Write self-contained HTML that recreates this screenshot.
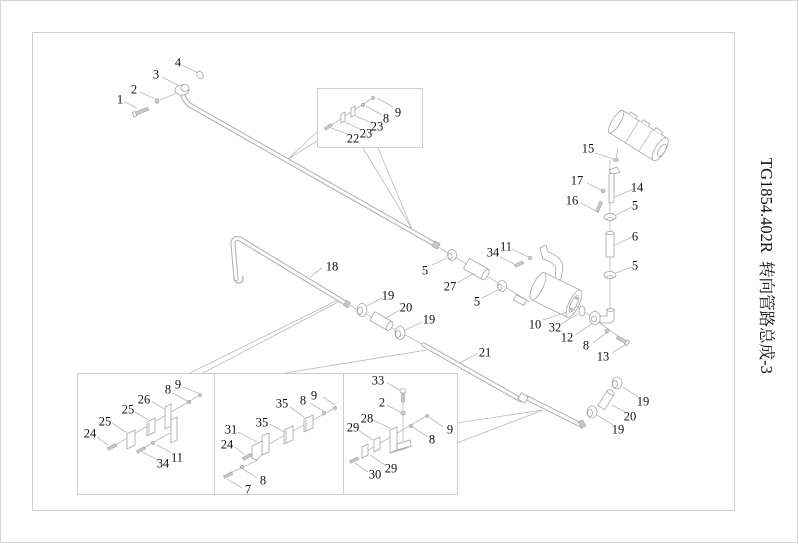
<!DOCTYPE html>
<html><head><meta charset="utf-8">
<style>
html,body{margin:0;padding:0;background:#fff;}
svg{display:block;}
text{font-family:"Liberation Serif","Noto Serif CJK SC",serif;fill:#111;}
.n{font-size:12.5px;text-anchor:middle;}
.l{stroke:#b8b8b8;stroke-width:0.8;fill:none;}
.p{fill:#fff;stroke:#a4a4a4;stroke-width:0.8;}
.d{fill:#c8c8c8;stroke:#a0a0a0;stroke-width:0.6;}
.po{fill:none;stroke:#adadad;stroke-width:5;stroke-linecap:round;stroke-linejoin:round;}
.pi{fill:none;stroke:#fff;stroke-width:3;stroke-linecap:round;stroke-linejoin:round;}
</style></head><body>
<svg width="799" height="544" viewBox="0 0 799 544" xmlns="http://www.w3.org/2000/svg">
<rect x="0" y="0" width="799" height="544" fill="#fff"/>
<rect x="0.5" y="0.5" width="797" height="542" fill="none" stroke="#d6d6d6"/>
<rect x="32.5" y="32.5" width="702" height="478" fill="none" stroke="#cdcdcd"/>
<g fill="none" stroke="#cdcdcd">
<rect x="317.5" y="88.5" width="105" height="59"/>
<rect x="77.5" y="373.5" width="380" height="121"/>
<line x1="214.5" y1="373" x2="214.5" y2="494"/>
<line x1="343.5" y1="373" x2="343.5" y2="494"/>
</g>

<text transform="translate(761,158) rotate(90)" font-size="16.5">TG1854.402R&#160;&#160;转向管路总成-3</text>

<!-- PIPE A -->
<path class="po" d="M182,93 Q185,103 193,107 L436,245"/>
<path class="pi" d="M182,93 Q185,103 193,107 L436,245"/>
<g transform="translate(436,245) rotate(30)"><rect class="d" x="-3" y="-3" width="6" height="6"/></g>
<ellipse class="p" cx="182" cy="90" rx="7" ry="5"/>
<ellipse class="p" cx="185" cy="88" rx="4" ry="3.5"/>
<ellipse class="p" cx="200" cy="75" rx="3" ry="4" transform="rotate(-30 200 75)"/>
<line class="l" x1="160" y1="100" x2="177" y2="93"/>
<ellipse class="d" cx="157" cy="101" rx="2" ry="2.5"/>
<g transform="translate(135,114) rotate(-22)"><rect class="d" x="0" y="-1.6" width="14" height="3.2"/><rect class="p" x="-2" y="-2.4" width="3" height="4.8"/></g>
<line class="l" x1="182" y1="65" x2="198" y2="73"/>
<line class="l" x1="162" y1="77" x2="178" y2="85"/>
<line class="l" x1="140" y1="92" x2="155" y2="99"/>
<line class="l" x1="125" y1="102" x2="137" y2="108"/>
<line class="l" x1="317" y1="132" x2="288" y2="159"/>
<line class="l" x1="317" y1="141" x2="288" y2="159"/>
<line class="l" x1="363" y1="148" x2="412" y2="229"/>
<line class="l" x1="378" y1="148" x2="412" y2="229"/>

<!-- top inset parts -->
<line class="l" x1="330" y1="126" x2="374" y2="97"/>
<g transform="translate(325,129) rotate(-33)"><rect class="d" x="0" y="-1.3" width="8" height="2.6"/></g>
<path class="p" d="M341,114 l4,-2 l0,9 l-4,2 z"/>
<path class="p" d="M351,108 l4,-2 l0,9 l-4,2 z"/>
<circle class="d" cx="363" cy="105" r="1.8"/>
<circle class="d" cx="373" cy="98" r="1.6"/>
<line class="l" x1="377" y1="98" x2="393" y2="107"/>
<line class="l" x1="366" y1="106" x2="382" y2="115"/>
<line class="l" x1="355" y1="116" x2="372" y2="123"/>
<line class="l" x1="345" y1="122" x2="362" y2="130"/>
<line class="l" x1="331" y1="128" x2="350" y2="135"/>

<!-- PIPE 18 -->
<path class="po" d="M236,279 L233,244 Q233,237 240,239 L347,304"/>
<path class="pi" d="M236,279 L233,244 Q233,237 240,239 L347,304"/>
<path d="M234,276 Q234,284 240,283 Q245,281 242,276" fill="none" stroke="#adadad" stroke-width="1.2"/>
<g transform="translate(347,304) rotate(31)"><rect class="d" x="-2.5" y="-2.8" width="5" height="5.6"/></g>
<line class="l" x1="322" y1="268" x2="310" y2="277"/>
<line class="l" x1="190" y1="373" x2="338" y2="300"/>
<line class="l" x1="203" y1="373" x2="340" y2="301"/>

<!-- 19 20 19 -->
<line class="l" x1="349" y1="305" x2="424" y2="345"/>
<ellipse class="p" cx="362" cy="310" rx="5" ry="6.5"/><ellipse class="p" cx="360" cy="311" rx="2.5" ry="3.5"/>
<g transform="translate(381,321) rotate(30)"><rect class="p" x="-10" y="-5" width="20" height="10"/><ellipse class="p" cx="10" cy="0" rx="2.5" ry="5"/></g>
<ellipse class="p" cx="400" cy="333" rx="5" ry="6.5"/><ellipse class="p" cx="398" cy="334" rx="2.5" ry="3.5"/>
<line class="l" x1="382" y1="298" x2="367" y2="306"/>
<line class="l" x1="400" y1="310" x2="386" y2="318"/>
<line class="l" x1="422" y1="322" x2="405" y2="330"/>

<!-- PIPE 21 -->
<path class="po" d="M424,345 L521,400"/>
<path class="pi" d="M424,345 L521,400"/>
<path class="po" d="M525,397 L581,425"/>
<path class="pi" d="M525,397 L581,425"/>
<g transform="translate(523,398) rotate(30)"><rect class="p" x="-4" y="-3.5" width="8" height="7"/></g>
<g transform="translate(582,424) rotate(-30)"><rect class="d" x="-2.5" y="-3.5" width="5" height="7"/></g>
<line class="l" x1="478" y1="353" x2="460" y2="363"/>
<line class="l" x1="285" y1="373" x2="427" y2="350"/>
<line class="l" x1="457" y1="423" x2="543" y2="410"/>
<line class="l" x1="457" y1="443" x2="543" y2="410"/>

<!-- right 19 20 19 -->
<ellipse class="p" cx="617" cy="383" rx="5" ry="6"/><ellipse class="p" cx="615" cy="384" rx="2.5" ry="3.5"/>
<g transform="translate(606,400) rotate(-58)"><rect class="p" x="-9" y="-4" width="18" height="8"/><ellipse class="p" cx="9" cy="0" rx="2" ry="4"/></g>
<ellipse class="p" cx="592" cy="412" rx="5" ry="6"/><ellipse class="p" cx="590" cy="413" rx="2.5" ry="3.5"/>
<line class="l" x1="623" y1="387" x2="638" y2="397"/>
<line class="l" x1="612" y1="405" x2="625" y2="412"/>
<line class="l" x1="597" y1="415" x2="613" y2="425"/>

<!-- chain to cylinder -->
<line class="l" x1="438" y1="247" x2="530" y2="302"/>
<ellipse class="p" cx="452" cy="255" rx="4.5" ry="5.5"/><ellipse class="p" cx="450" cy="256" rx="2" ry="3"/>
<g transform="translate(476,269) rotate(30)"><rect class="p" x="-11" y="-6" width="22" height="12"/><ellipse class="p" cx="11" cy="0" rx="2.5" ry="6"/></g>
<ellipse class="p" cx="502" cy="286" rx="4.5" ry="5.5"/><ellipse class="p" cx="500" cy="287" rx="2" ry="3"/>
<line class="l" x1="432" y1="265" x2="447" y2="258"/>
<line class="l" x1="457" y1="283" x2="475" y2="273"/>
<line class="l" x1="482" y1="298" x2="498" y2="290"/>

<path class="p" d="M540,248 L546,245 L548,252 Q561,256 563,266 L561,279 L555,281 L556,268 Q553,262 543,259 Z"/>
<g transform="translate(515,266) rotate(-25)"><rect class="d" x="0" y="-1.4" width="9" height="2.8"/></g>
<circle class="d" cx="530" cy="258" r="1.8"/>
<line class="l" x1="500" y1="257" x2="514" y2="264"/>
<line class="l" x1="512" y1="249" x2="528" y2="257"/>
<g transform="translate(520,300) rotate(28)"><rect class="p" x="-6" y="-3" width="12" height="6"/></g>
<g transform="translate(556,295) rotate(26)">
<rect class="p" x="-20" y="-15" width="40" height="30"/>
<ellipse class="p" cx="-20" cy="0" rx="5" ry="15"/>
<ellipse class="p" cx="20" cy="0" rx="5" ry="15"/>
<ellipse class="p" cx="20" cy="0" rx="3" ry="9"/>
<circle class="d" cx="20" cy="-6" r="1"/><circle class="d" cx="20" cy="6" r="1"/>
</g>
<line class="l" x1="543" y1="320" x2="567" y2="312"/>
<line class="l" x1="561" y1="324" x2="578" y2="314"/>
<line class="l" x1="575" y1="335" x2="593" y2="323"/>
<line class="l" x1="593" y1="343" x2="606" y2="333"/>
<line class="l" x1="612" y1="353" x2="627" y2="344"/>
<line class="l" x1="576" y1="306" x2="628" y2="343"/>
<ellipse class="p" cx="582" cy="311" rx="3" ry="5"/>
<ellipse class="p" cx="595" cy="318" rx="5.5" ry="6.5"/><ellipse class="p" cx="594" cy="319" rx="2.5" ry="3"/>
<path class="p" d="M600,316 L607,316 L607,309 L614,309 L614,318 Q614,323 608,323 L600,323 Z"/>
<ellipse class="p" cx="610.5" cy="310" rx="3.5" ry="1.5"/>
<circle class="d" cx="607" cy="331" r="2"/>
<g transform="translate(617,337) rotate(30)"><rect class="d" x="0" y="-1.6" width="12" height="3.2"/><rect class="p" x="10" y="-2.4" width="3" height="4.8"/></g>

<!-- vertical chain -->
<line class="l" x1="610" y1="160" x2="610" y2="310"/>
<line class="l" x1="618" y1="148" x2="616" y2="160"/>
<ellipse class="d" cx="616" cy="160" rx="2.5" ry="1.5"/>
<path class="p" d="M609,170 L617,167 L620,172 L612,175 Z"/>
<path class="p" d="M609,174 L614,173 L614,202 L609,203 Z"/>
<circle class="d" cx="603" cy="191" r="2"/>
<g transform="translate(597,212) rotate(-68)"><rect class="d" x="0" y="-1.4" width="11" height="2.8"/></g>
<ellipse class="p" cx="610" cy="217" rx="6" ry="3.5"/><ellipse class="p" cx="610" cy="219" rx="3" ry="1.5"/>
<rect class="p" x="606" y="233" width="8" height="24"/>
<ellipse class="p" cx="610" cy="233" rx="4" ry="1.6"/>
<ellipse class="p" cx="610" cy="275" rx="6" ry="3.5"/><ellipse class="p" cx="610" cy="277" rx="3" ry="1.5"/>
<line class="l" x1="595" y1="153" x2="614" y2="159"/>
<line class="l" x1="587" y1="183" x2="601" y2="190"/>
<line class="l" x1="581" y1="203" x2="596" y2="211"/>
<line class="l" x1="633" y1="189" x2="615" y2="197"/>
<line class="l" x1="632" y1="207" x2="616" y2="215"/>
<line class="l" x1="632" y1="237" x2="615" y2="245"/>
<line class="l" x1="632" y1="267" x2="616" y2="273"/>
<g transform="translate(639,136) rotate(32)">
<rect class="p" x="-27" y="-13" width="52" height="26"/>
<path class="p" d="M-20,-13 l0,-3 l8,0 l0,3 M-5,-13 l0,-3 l8,0 l0,3 M10,-13 l0,-3 l8,0 l0,3"/>
<line class="l" x1="-8" y1="-13" x2="-8" y2="13"/>
<line class="l" x1="8" y1="-13" x2="8" y2="13"/>
<ellipse class="p" cx="25" cy="0" rx="5" ry="13"/>
<ellipse class="p" cx="27" cy="0" rx="3" ry="7"/>
<ellipse class="p" cx="-27" cy="0" rx="4" ry="13"/>
</g>

<!-- LEFT BOX -->
<line class="l" x1="112" y1="447" x2="200" y2="395"/>
<line class="l" x1="140" y1="450" x2="170" y2="433"/>
<circle class="d" cx="200" cy="395" r="1.6"/>
<circle class="d" cx="189" cy="402" r="1.8"/>
<path class="p" d="M165,407 L171,404 L171,426 L165,429 Z"/>
<path class="p" d="M171,420 L177,417 L177,440 L171,443 Z"/>
<path class="p" d="M147,422 L155,418 L155,432 L147,436 Z"/>
<path class="p" d="M149,423 L149,434"/>
<path class="p" d="M127,434 L135,430 L135,445 L127,449 Z"/>
<g transform="translate(108,449) rotate(-28)"><rect class="d" x="0" y="-1.4" width="9" height="2.8"/></g>
<g transform="translate(137,452) rotate(-28)"><rect class="d" x="0" y="-1.4" width="9" height="2.8"/></g>
<circle class="d" cx="153" cy="443" r="1.8"/>
<line class="l" x1="183" y1="387" x2="198" y2="393"/>
<line class="l" x1="173" y1="393" x2="187" y2="401"/>
<line class="l" x1="152" y1="402" x2="166" y2="410"/>
<line class="l" x1="135" y1="412" x2="148" y2="420"/>
<line class="l" x1="112" y1="423" x2="127" y2="433"/>
<line class="l" x1="97" y1="437" x2="108" y2="445"/>
<line class="l" x1="158" y1="460" x2="142" y2="452"/>
<line class="l" x1="172" y1="453" x2="157" y2="445"/>

<!-- MIDDLE BOX -->
<line class="l" x1="247" y1="456" x2="335" y2="408"/>
<line class="l" x1="226" y1="475" x2="258" y2="460"/>
<circle class="d" cx="335" cy="408" r="1.6"/>
<circle class="d" cx="324" cy="413" r="1.8"/>
<path class="p" d="M304,419 L313,415 L313,428 L304,432 Z"/>
<path class="p" d="M306,420 L306,431"/>
<path class="p" d="M284,430 L293,426 L293,440 L284,444 Z"/>
<path class="p" d="M286,431 L286,443"/>
<path class="p" d="M262,436 L269,433 L269,452 L262,455 Z"/>
<path class="p" d="M252,446 L262,441 L262,455 L256,460 L252,458 Z"/>
<g transform="translate(243,459) rotate(-28)"><rect class="d" x="0" y="-1.4" width="9" height="2.8"/></g>
<circle class="d" cx="242" cy="467" r="1.8"/>
<g transform="translate(224,477) rotate(-25)"><rect class="d" x="0" y="-1.4" width="9" height="2.8"/></g>
<line class="l" x1="323" y1="397" x2="335" y2="405"/>
<line class="l" x1="310" y1="403" x2="323" y2="411"/>
<line class="l" x1="290" y1="407" x2="304" y2="417"/>
<line class="l" x1="270" y1="424" x2="284" y2="432"/>
<line class="l" x1="238" y1="432" x2="257" y2="442"/>
<line class="l" x1="235" y1="447" x2="245" y2="455"/>
<line class="l" x1="257" y1="478" x2="243" y2="469"/>
<line class="l" x1="242" y1="488" x2="227" y2="479"/>

<!-- RIGHT BOX -->
<line class="l" x1="403" y1="400" x2="403" y2="445"/>
<line class="l" x1="365" y1="452" x2="428" y2="415"/>
<ellipse class="p" cx="403" cy="391" rx="3" ry="2.5"/>
<rect class="d" x="401.5" y="393" width="3" height="9"/>
<ellipse class="d" cx="403" cy="413" rx="2.5" ry="2"/>
<path class="p" d="M390,430 L397,427 L397,450 L390,453 Z"/>
<path class="p" d="M390,453 L397,450 L411,446 L404,449 Z"/>
<path class="p" d="M397,444 L410,440 L411,446 L397,450 Z"/>
<circle class="d" cx="411" cy="426" r="1.8"/>
<circle class="d" cx="427" cy="416" r="1.6"/>
<path class="p" d="M374,440 L380,437 L380,449 L374,452 Z"/>
<path class="p" d="M362,447 L368,444 L368,455 L362,458 Z"/>
<g transform="translate(350,462) rotate(-25)"><rect class="d" x="0" y="-1.4" width="9" height="2.8"/></g>
<line class="l" x1="387" y1="383" x2="400" y2="390"/>
<line class="l" x1="387" y1="405" x2="400" y2="412"/>
<line class="l" x1="373" y1="420" x2="390" y2="428"/>
<line class="l" x1="358" y1="430" x2="373" y2="440"/>
<line class="l" x1="443" y1="427" x2="429" y2="417"/>
<line class="l" x1="428" y1="437" x2="413" y2="427"/>
<line class="l" x1="368" y1="472" x2="355" y2="463"/>
<line class="l" x1="385" y1="465" x2="370" y2="455"/>

<!-- LABELS -->
<g>
<text class="n" x="120" y="103.5">1</text>
<text class="n" x="134" y="93.5">2</text>
<text class="n" x="156" y="78.5">3</text>
<text class="n" x="178" y="66.5">4</text>
<text class="n" x="353" y="142.5">22</text>
<text class="n" x="366" y="137.5">23</text>
<text class="n" x="377" y="130.5">23</text>
<text class="n" x="386" y="122.5">8</text>
<text class="n" x="398" y="116.5">9</text>
<text class="n" x="588" y="152.5">15</text>
<text class="n" x="577" y="184.5">17</text>
<text class="n" x="572" y="204.5">16</text>
<text class="n" x="637" y="191.5">14</text>
<text class="n" x="635" y="209.5">5</text>
<text class="n" x="635" y="240.5">6</text>
<text class="n" x="635" y="269.5">5</text>
<text class="n" x="493" y="256.5">34</text>
<text class="n" x="506" y="250.5">11</text>
<text class="n" x="425" y="274.5">5</text>
<text class="n" x="450" y="290.5">27</text>
<text class="n" x="477" y="305.5">5</text>
<text class="n" x="535" y="328.5">10</text>
<text class="n" x="555" y="331.5">32</text>
<text class="n" x="567" y="341.5">12</text>
<text class="n" x="586" y="349.5">8</text>
<text class="n" x="603" y="360.5">13</text>
<text class="n" x="332" y="270.5">18</text>
<text class="n" x="388" y="299.5">19</text>
<text class="n" x="406" y="311.5">20</text>
<text class="n" x="429" y="323.5">19</text>
<text class="n" x="485" y="356.5">21</text>
<text class="n" x="643" y="405.5">19</text>
<text class="n" x="630" y="420.5">20</text>
<text class="n" x="618" y="433.5">19</text>
<text class="n" x="168" y="393.5">8</text>
<text class="n" x="178" y="388.5">9</text>
<text class="n" x="144" y="403.5">26</text>
<text class="n" x="128" y="413.5">25</text>
<text class="n" x="105" y="425.5">25</text>
<text class="n" x="90" y="437.5">24</text>
<text class="n" x="163" y="467.5">34</text>
<text class="n" x="177" y="461.5">11</text>
<text class="n" x="282" y="407.5">35</text>
<text class="n" x="303" y="404.5">8</text>
<text class="n" x="314" y="399.5">9</text>
<text class="n" x="262" y="426.5">35</text>
<text class="n" x="231" y="433.5">31</text>
<text class="n" x="227" y="448.5">24</text>
<text class="n" x="263" y="484.5">8</text>
<text class="n" x="248" y="493.5">7</text>
<text class="n" x="378" y="384.5">33</text>
<text class="n" x="382" y="406.5">2</text>
<text class="n" x="367" y="422.5">28</text>
<text class="n" x="353" y="431.5">29</text>
<text class="n" x="450" y="433.5">9</text>
<text class="n" x="432" y="443.5">8</text>
<text class="n" x="375" y="478.5">30</text>
<text class="n" x="391" y="472.5">29</text>
</g>
</svg>
</body></html>
